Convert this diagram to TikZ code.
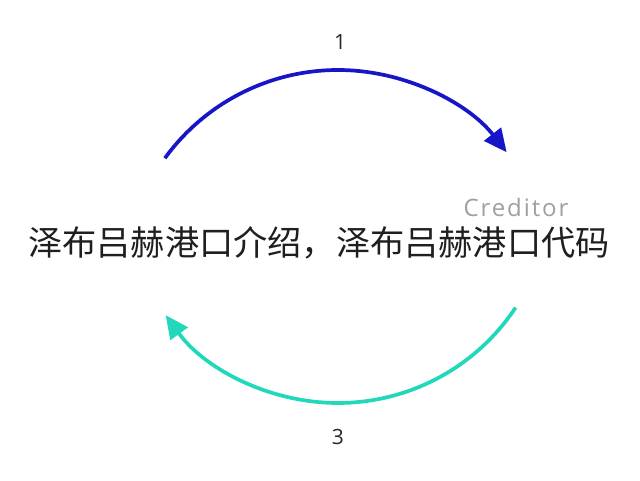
\documentclass[tikz,border=0pt]{standalone}
\usepackage{fontspec}
\setmainfont{Open Sans}
\newfontfamily\cjk{Noto Sans CJK SC}
\newfontfamily\spaced[LetterSpace=8]{Open Sans}
\usetikzlibrary{arrows.meta}
\definecolor{arcblue}{RGB}{22,22,200}
\definecolor{arcteal}{RGB}{34,216,186}
\definecolor{labgrey}{RGB}{160,160,160}
\tikzset{
  arcline/.style={line width=3.7pt, -{Triangle[length=23pt,width=21pt]}},
  numlabel/.style={font=\fontsize{21}{24}\selectfont, text=black!85},
}
\begin{document}
\begin{tikzpicture}[x=1pt,y=1pt]
\useasboundingbox[fill=white] (0,0) rectangle (640,480);
% top arc
\coordinate (tc) at (338,196);
\draw[arcline, draw=arcblue] ([shift={(144:214)}]tc) arc[start angle=144, end angle=38, radius=214];
% bottom arc
\coordinate (bc) at (338,290);
\draw[arcline, draw=arcteal] ([shift={(-33.5:213)}]bc) arc[start angle=-33.5, end angle=-144, radius=213];
\node[numlabel] (one) at (340,438) {1};
\node[numlabel] (three) at (338,43) {3};
\node[font=\spaced\fontsize{24}{28}\selectfont, text=labgrey] (cred) at (516,272) {Creditor};
\node[font=\cjk\fontsize{34.2}{38}\selectfont, text=black!88, inner sep=0pt] (title) at (319,237) {泽布吕赫港口介绍，泽布吕赫港口代码};
\end{tikzpicture}
\end{document}
